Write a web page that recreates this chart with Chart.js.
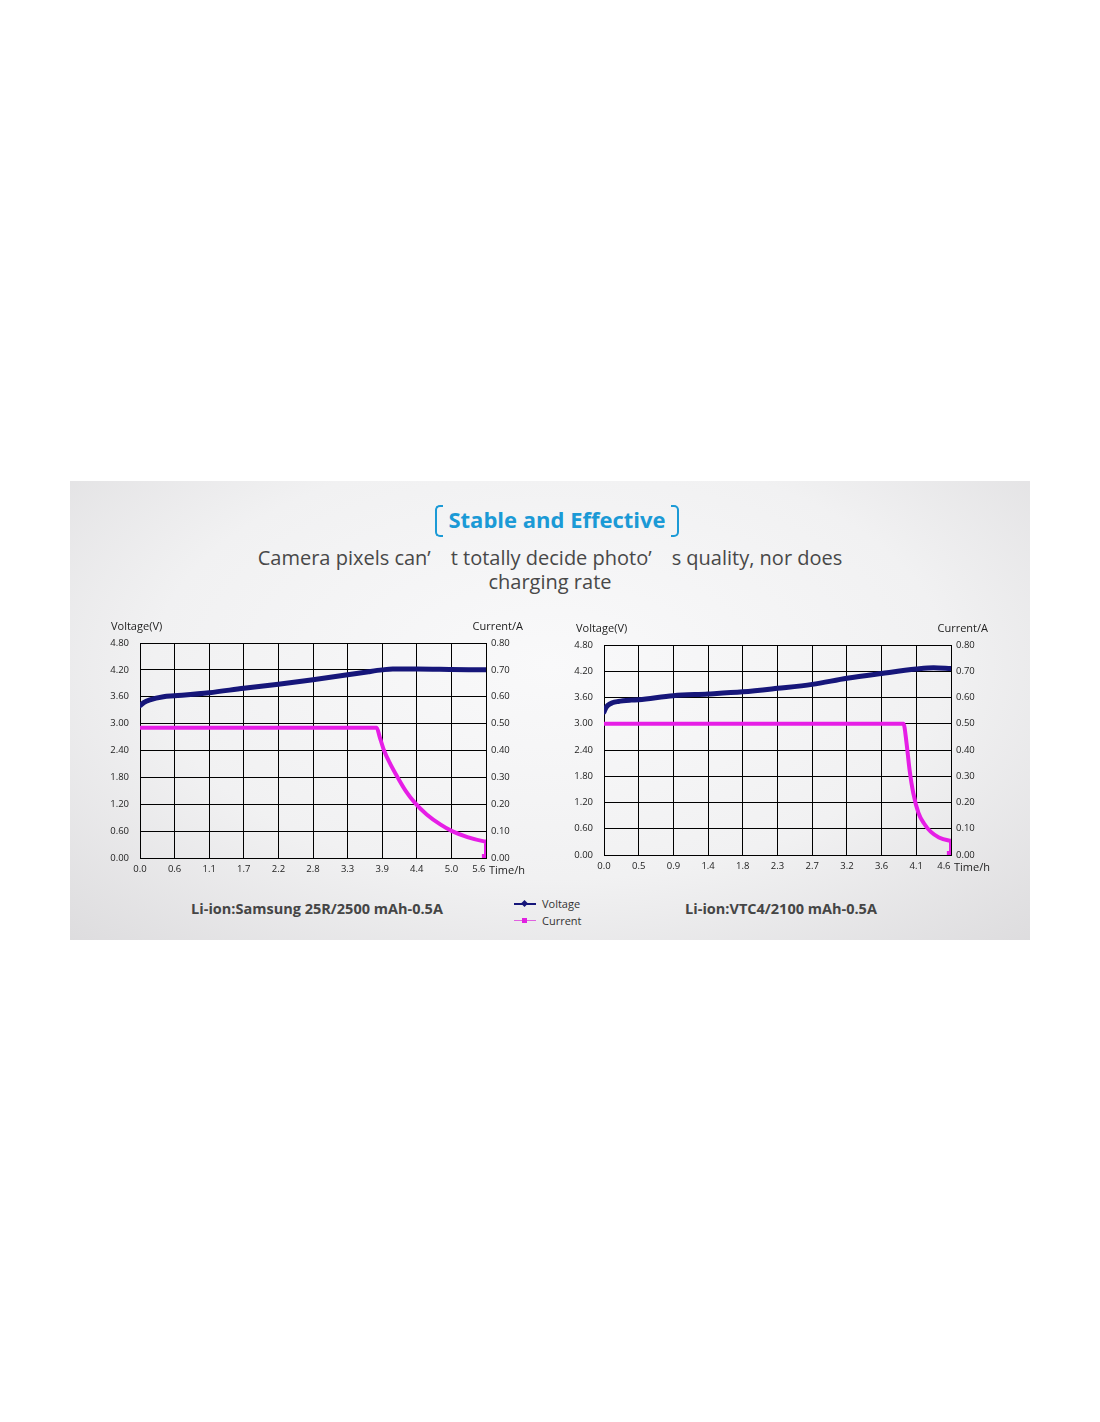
<!DOCTYPE html>
<html>
<head>
<meta charset="utf-8">
<script src="https://cdn.jsdelivr.net/npm/chart.js@4/dist/chart.umd.min.js"></script>
<style>
  body { margin: 0; width: 1100px; height: 1422px; background: #fff; position: relative; font-family: "Open Sans", sans-serif; }
  #panel {
    position: absolute; left: 70px; top: 481px; width: 960px; height: 459px;
    background: radial-gradient(ellipse 75% 85% at 50% 40%, #f9f9fa 0%, #f1f1f2 55%, #dcdbdd 100%);
  }
  .abs { position: absolute; }
  #title { left: 7px; width: 1100px; top: 503px; text-align: center; color: #1b9ad6; font-weight: 700; font-size: 22px; line-height: 32px; }
  .br { position: absolute; top: 505px; width: 6px; height: 28px; border: 2.5px solid #1b9ad6; }
  #brl { left: 435px; border-right: none; border-radius: 5px 0 0 5px; }
  #brr { left: 671px; border-left: none; border-radius: 0 5px 5px 0; }
  .sub { left: 0; width: 1100px; height: 22px; text-align: center; color: #484848; font-size: 20px; line-height: 22px; overflow: visible; }
  .cap { top: 899px; width: 400px; text-align: center; color: #454545; font-weight: 700; font-size: 14.5px; }
  #legend { left: 514px; top: 895px; font-size: 11px; color: #333; line-height: 17px; }
  .lg { display: flex; align-items: center; }
  .sw { position: relative; width: 22px; height: 2px; margin-right: 6px; }
  .mk { position: absolute; left: 8px; top: -2px; width: 5px; height: 5px; }
  canvas { position: absolute; }
</style>
</head>
<body>
<div id="panel"></div>
<div id="brl" class="br"></div>
<div id="brr" class="br"></div>
<div id="title" class="abs">Stable and Effective</div>
<div class="abs sub" style="top:547px">Camera pixels can’　t totally decide photo’　s quality, nor does</div>
<div class="abs sub" style="top:571px">charging rate</div>

<div style="left:100px;top:615px;width:440px;height:270px" class="abs"><canvas id="leftChart" style="left:0;top:0"></canvas></div>
<div style="left:565px;top:617px;width:440px;height:265px" class="abs"><canvas id="rightChart" style="left:0;top:0"></canvas></div>

<div class="abs cap" style="left:117px">Li-ion:Samsung 25R/2500 mAh-0.5A</div>
<div class="abs cap" style="left:581px">Li-ion:VTC4/2100 mAh-0.5A</div>
<div id="legend" class="abs">
  <div class="lg"><span class="sw" style="background:#16167a"><span class="mk" style="background:#16167a;transform:rotate(45deg)"></span></span>Voltage</div>
  <div class="lg"><span class="sw" style="background:#e060e0;height:1px"><span class="mk" style="background:#e020e0;top:-2px"></span></span>Current</div>
</div>

<script>
// tick labels
const voltageTicks = ["0.00", "0.60", "1.20", "1.80", "2.40", "3.00", "3.60", "4.20", "4.80"];
const currentTicks = ["0.00", "0.10", "0.20", "0.30", "0.40", "0.50", "0.60", "0.70", "0.80"];
const samsungTimeLabels = ["0.0", "0.6", "1.1", "1.7", "2.2", "2.8", "3.3", "3.9", "4.4", "5.0", "5.6"];
const vtc4TimeLabels = ["0.0", "0.5", "0.9", "1.4", "1.8", "2.3", "2.7", "3.2", "3.6", "4.1", "4.6"];

// Samsung 25R (time in h)
const samsungVoltTime = [0, 0.06, 0.16, 0.38, 0.56, 1.12, 1.68, 2.24, 2.80, 3.36, 3.70, 3.92, 4.09, 4.48, 5.04, 5.60];
const samsungVolt     = [3.40, 3.47, 3.53, 3.60, 3.62, 3.69, 3.79, 3.88, 3.98, 4.09, 4.16, 4.20, 4.22, 4.22, 4.21, 4.20];
const samsungCurrTime = [0, 3.83, 3.88, 3.95, 4.05, 4.17, 4.30, 4.45, 4.64, 4.86, 5.05, 5.30, 5.57, 5.60, 5.60];
const samsungCurr     = [0.485, 0.485, 0.45, 0.40, 0.35, 0.30, 0.25, 0.205, 0.162, 0.125, 0.100, 0.078, 0.062, 0.061, 0];

// Sony VTC4
const vtc4VoltTime = [0, 0.02, 0.05, 0.11, 0.19, 0.36, 0.46, 0.92, 1.38, 1.84, 2.30, 2.76, 3.22, 3.68, 4.14, 4.37, 4.60];
const vtc4Volt     = [3.27, 3.35, 3.42, 3.48, 3.51, 3.54, 3.55, 3.64, 3.68, 3.73, 3.81, 3.90, 4.04, 4.15, 4.25, 4.28, 4.26];
const vtc4CurrTime = [0, 3.97, 4.01, 4.05, 4.10, 4.17, 4.24, 4.33, 4.44, 4.57, 4.60, 4.60];
const vtc4Curr     = [0.50, 0.50, 0.428, 0.326, 0.236, 0.159, 0.121, 0.089, 0.067, 0.055, 0.054, 0];

const navy = "#16167a";
const magenta = "#e61ee6";
const tickFont = { family: "Open Sans", size: 9.5 };

// draws Voltage(V), Current/A and Time/h around the plot
const axisTitles = {
    id: "axisTitles",
    afterDraw(chart) {
        const ctx = chart.ctx;
        const area = chart.chartArea;
        ctx.save();
        ctx.fillStyle = "#222";
        ctx.font = "11px 'Open Sans'";
        ctx.textBaseline = "middle";
        ctx.textAlign = "left";
        ctx.fillText("Voltage(V)", 11, area.top - 16);
        ctx.textAlign = "right";
        ctx.fillText("Current/A", area.right + 37, area.top - 16);
        ctx.textAlign = "left";
        ctx.fillText("Time/h", area.right + 3, area.bottom + 13);
        ctx.restore();
    }
};

function pts(xs, ys) {
    return xs.map((x, i) => ({ x: x, y: ys[i] }));
}

function makeChart(id, voltTime, volt, currTime, curr, timeLabels, maxTime, leftW) {
    const ctx = document.getElementById(id).getContext("2d");
    const lastIdx = curr.length - 1;
    const lastTick = timeLabels.length - 1;
    return new Chart(ctx, {
        type: "line",
        data: {
            datasets: [{
                label: "Voltage",
                data: pts(voltTime, volt),
                yAxisID: "y",
                borderColor: navy,
                borderWidth: 5,
                pointRadius: 0,
                cubicInterpolationMode: "monotone",
                borderCapStyle: "round",
                borderJoinStyle: "round"
            }, {
                label: "Current",
                data: pts(currTime, curr),
                yAxisID: "y1",
                borderColor: magenta,
                backgroundColor: magenta,
                borderWidth: 4,
                pointStyle: "rect",
                pointRadius: curr.map((v, i) => i === lastIdx ? 3 : 0),
                cubicInterpolationMode: "monotone",
                borderJoinStyle: "round"
            }]
        },
        options: {
            responsive: true,
            maintainAspectRatio: false,
            animation: false,
            layout: { padding: { top: 28, left: 0, right: 0, bottom: 0 } },
            plugins: { legend: { display: false }, tooltip: { enabled: false } },
            scales: {
                x: {
                    type: "linear",
                    min: 0,
                    max: maxTime,
                    afterBuildTicks: (s) => { s.ticks = timeLabels.map((l, i) => ({ value: maxTime * i / 10 })); },
                    afterFit: (s) => { s.height = 27; },
                    // last label nudged left to leave room for Time/h
                    ticks: { callback: (v, i) => i === lastTick ? timeLabels[i] + "\u2003\u2002" : timeLabels[i], color: "#222", font: tickFont, padding: 6, maxRotation: 0, autoSkip: false },
                    grid: { color: "#000", lineWidth: 1, drawTicks: false },
                    border: { color: "#000", width: 1 }
                },
                y: {
                    position: "left",
                    min: 0,
                    max: 4.8,
                    afterBuildTicks: (s) => { s.ticks = voltageTicks.map((l, i) => ({ value: 0.6 * i })); },
                    afterFit: (s) => { s.width = leftW; },
                    ticks: { callback: (v, i) => voltageTicks[i], color: "#222", font: tickFont, padding: 11 },
                    grid: { color: "#000", lineWidth: 1, drawTicks: false },
                    border: { color: "#000", width: 1 }
                },
                y1: {
                    position: "right",
                    min: 0,
                    max: 0.8,
                    afterBuildTicks: (s) => { s.ticks = currentTicks.map((l, i) => ({ value: 0.1 * i })); },
                    afterFit: (s) => { s.width = 54; },
                    ticks: { callback: (v, i) => currentTicks[i], color: "#222", font: tickFont, padding: 5 },
                    grid: { display: false, drawTicks: false },
                    border: { color: "#000", width: 1 }
                }
            }
        },
        plugins: [axisTitles]
    });
}

makeChart("leftChart", samsungVoltTime, samsungVolt, samsungCurrTime, samsungCurr, samsungTimeLabels, 5.6, 40);
makeChart("rightChart", vtc4VoltTime, vtc4Volt, vtc4CurrTime, vtc4Curr, vtc4TimeLabels, 4.6, 39);
</script>
</body>
</html>
